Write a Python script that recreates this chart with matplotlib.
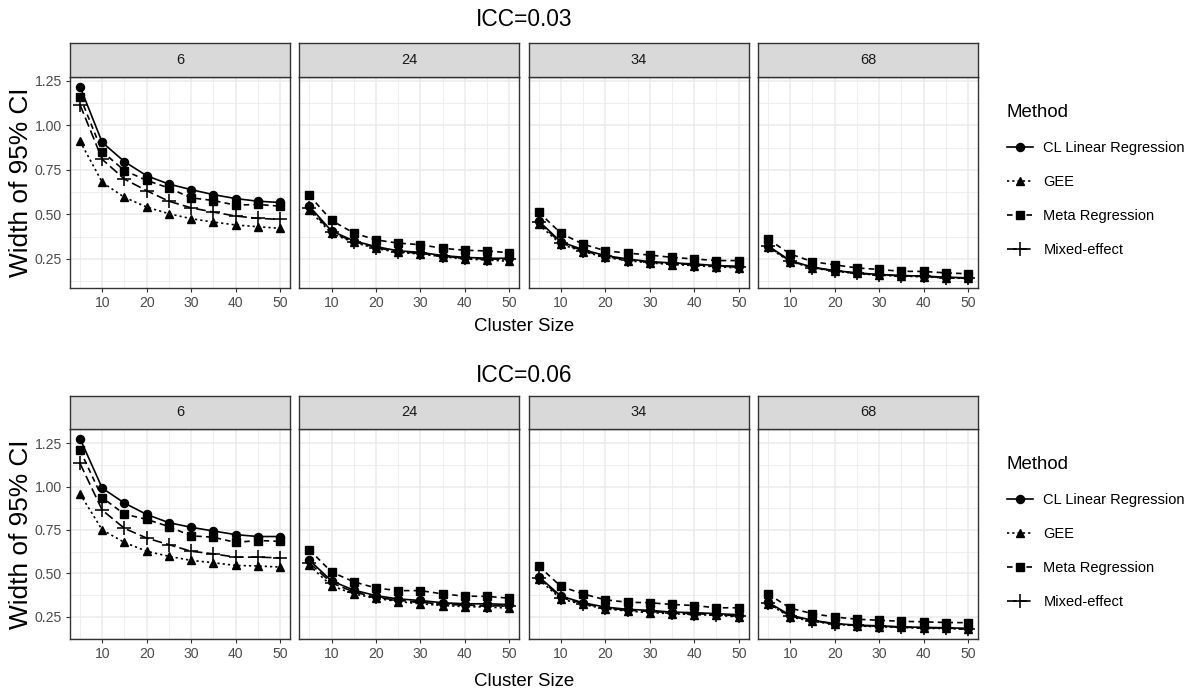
import matplotlib
matplotlib.use("Agg")
import matplotlib.pyplot as plt
from matplotlib import font_manager
from matplotlib.lines import Line2D

# ---- data -------------------------------------------------------------
cluster_size = [5, 10, 15, 20, 25, 30, 35, 40, 45, 50]
n_clusters = ["6", "24", "34", "68"]
methods = ["CL Linear Regression", "GEE", "Meta Regression", "Mixed-effect"]
icc_titles = ["ICC=0.03", "ICC=0.06"]

# width of 95% CI, one row per number of clusters (6, 24, 34, 68)
icc003_cl = [
    [1.217, 0.904, 0.796, 0.717, 0.670, 0.639, 0.611, 0.589, 0.574, 0.567],
    [0.546, 0.407, 0.352, 0.319, 0.296, 0.287, 0.269, 0.259, 0.254, 0.254],
    [0.463, 0.346, 0.302, 0.269, 0.250, 0.235, 0.228, 0.222, 0.213, 0.209],
    [0.324, 0.241, 0.204, 0.185, 0.172, 0.163, 0.157, 0.154, 0.148, 0.144],
]
icc003_gee = [
    [0.911, 0.680, 0.596, 0.541, 0.504, 0.476, 0.457, 0.441, 0.431, 0.422],
    [0.524, 0.393, 0.343, 0.309, 0.287, 0.278, 0.263, 0.250, 0.244, 0.237],
    [0.444, 0.333, 0.291, 0.259, 0.241, 0.228, 0.219, 0.213, 0.206, 0.200],
    [0.315, 0.235, 0.200, 0.181, 0.169, 0.159, 0.154, 0.150, 0.144, 0.141],
]
icc003_meta = [
    [1.161, 0.852, 0.746, 0.691, 0.648, 0.593, 0.578, 0.552, 0.556, 0.546],
    [0.607, 0.466, 0.396, 0.357, 0.339, 0.330, 0.310, 0.299, 0.295, 0.285],
    [0.513, 0.394, 0.333, 0.296, 0.283, 0.272, 0.259, 0.250, 0.241, 0.241],
    [0.361, 0.278, 0.235, 0.217, 0.200, 0.191, 0.181, 0.180, 0.172, 0.167],
]
icc003_mixed = [
    [1.115, 0.809, 0.698, 0.633, 0.574, 0.537, 0.513, 0.491, 0.478, 0.472],
    [0.535, 0.400, 0.348, 0.314, 0.291, 0.282, 0.265, 0.255, 0.250, 0.248],
    [0.455, 0.340, 0.296, 0.264, 0.246, 0.232, 0.225, 0.218, 0.210, 0.206],
    [0.320, 0.238, 0.202, 0.183, 0.170, 0.161, 0.156, 0.152, 0.146, 0.143],
]
icc006_cl = [
    [1.277, 0.991, 0.905, 0.839, 0.792, 0.765, 0.744, 0.723, 0.712, 0.712],
    [0.576, 0.456, 0.403, 0.371, 0.352, 0.343, 0.330, 0.324, 0.324, 0.320],
    [0.481, 0.368, 0.330, 0.305, 0.292, 0.286, 0.276, 0.273, 0.267, 0.261],
    [0.333, 0.258, 0.229, 0.210, 0.201, 0.197, 0.191, 0.188, 0.186, 0.182],
]
icc006_gee = [
    [0.958, 0.750, 0.678, 0.627, 0.598, 0.574, 0.561, 0.545, 0.542, 0.536],
    [0.545, 0.428, 0.381, 0.356, 0.337, 0.324, 0.314, 0.308, 0.305, 0.299],
    [0.466, 0.352, 0.320, 0.295, 0.282, 0.273, 0.267, 0.261, 0.258, 0.248],
    [0.324, 0.248, 0.223, 0.206, 0.197, 0.191, 0.188, 0.182, 0.182, 0.176],
]
icc006_meta = [
    [1.210, 0.936, 0.841, 0.811, 0.769, 0.716, 0.708, 0.678, 0.689, 0.684],
    [0.636, 0.507, 0.451, 0.415, 0.400, 0.400, 0.381, 0.368, 0.367, 0.356],
    [0.542, 0.424, 0.381, 0.347, 0.333, 0.330, 0.320, 0.314, 0.301, 0.301],
    [0.381, 0.299, 0.267, 0.248, 0.235, 0.229, 0.223, 0.220, 0.216, 0.215],
]
icc006_mixed = [
    [1.134, 0.864, 0.759, 0.703, 0.665, 0.627, 0.612, 0.593, 0.593, 0.589],
    [0.560, 0.445, 0.392, 0.362, 0.344, 0.333, 0.322, 0.316, 0.314, 0.310],
    [0.474, 0.360, 0.325, 0.300, 0.287, 0.280, 0.272, 0.267, 0.262, 0.255],
    [0.328, 0.253, 0.226, 0.208, 0.199, 0.194, 0.190, 0.185, 0.184, 0.179],
]
rows = [
    [icc003_cl, icc003_gee, icc003_meta, icc003_mixed],
    [icc006_cl, icc006_gee, icc006_meta, icc006_mixed],
]

# ---- styling ----------------------------------------------------------
available = {f.name for f in font_manager.fontManager.ttflist}
if "Liberation Sans Narrow" in available:
    FONT, S = "Liberation Sans Narrow", 1.0
else:
    FONT, S = "Liberation Sans", 0.84
plt.rcParams["font.family"] = [FONT, "DejaVu Sans"]
plt.rcParams["lines.scale_dashes"] = False

LW = 1.2
styles = [
    dict(marker="o", ms=5.8, ls="-"),
    dict(marker="^", ms=6.2, ls=(0, (1.6, 2.2))),
    dict(marker="s", ms=5.8, ls=(0, (4.0, 3.0))),
    dict(marker="+", ms=9.5, mew=1.15, ls=(0, (7.0, 3.0))),
]

W, H = 1199, 694
fig = plt.figure(figsize=(W / 100, H / 100), dpi=100)


def rect(x0, y0, x1, y1):
    return [x0 / W, 1 - y1 / H, (x1 - x0) / W, (y1 - y0) / H]


lefts = [70, 299.3, 528.7, 758]
pw = 220
row_geom = [
    dict(strip=(43, 77), plot=(77, 288), title=20, xlab=327, leg=104),
    dict(strip=(396, 429), plot=(429, 639), title=375, xlab=681, leg=456),
]

EDGE = "#333333"
for r, geom in enumerate(row_geom):
    series = rows[r]
    allv = [v for m in series for panel in m for v in panel]
    lo, hi = min(allv), max(allv)
    pad = 0.05 * (hi - lo)
    for c, lab in enumerate(n_clusters):
        x0 = lefts[c]
        ax = fig.add_axes(rect(x0, geom["plot"][0], x0 + pw, geom["plot"][1]))
        for m in range(4):
            ax.plot(cluster_size, series[m][c], color="black", lw=LW,
                    **styles[m])
        ax.set_xlim(2.75, 52.25)
        ax.set_ylim(lo - pad, hi + pad)
        ax.set_xticks([10, 20, 30, 40, 50])
        ax.set_xticks([5, 15, 25, 35, 45], minor=True)
        ax.set_yticks([0.25, 0.50, 0.75, 1.00, 1.25])
        ax.set_yticks([0.125, 0.375, 0.625, 0.875, 1.125], minor=True)
        ax.grid(True, which="major", color="#EBEBEB", lw=1.1)
        ax.grid(True, which="minor", color="#EBEBEB", lw=0.6)
        ax.set_axisbelow(True)
        for sp in ax.spines.values():
            sp.set_color(EDGE)
            sp.set_linewidth(1.0)
        ax.tick_params(which="major", length=3, width=0.8, color=EDGE,
                       labelcolor="#4D4D4D", labelsize=12 * S, pad=3)
        ax.tick_params(which="minor", length=0)
        if c == 0:
            ax.set_yticklabels(["0.25", "0.50", "0.75", "1.00", "1.25"])
        else:
            ax.tick_params(axis="y", which="both", labelleft=False, left=False)
        sax = fig.add_axes(rect(x0, geom["strip"][0], x0 + pw, geom["strip"][1]))
        sax.set_facecolor("#D9D9D9")
        sax.set_xticks([])
        sax.set_yticks([])
        for sp in sax.spines.values():
            sp.set_color(EDGE)
            sp.set_linewidth(1.0)
        sax.text(0.5, 0.5, lab, ha="center", va="center", color="#1A1A1A",
                 fontsize=12.5 * S, transform=sax.transAxes)

    mid_x = (lefts[0] + lefts[-1] + pw) / 2
    fig.text(mid_x / W, 1 - geom["title"] / H, icc_titles[r], ha="center",
             va="center", fontsize=19.5 * S)
    fig.text(mid_x / W, 1 - geom["xlab"] / H, "Cluster Size", ha="center",
             va="center", fontsize=16 * S)
    yc = (geom["plot"][0] + geom["plot"][1]) / 2
    fig.text(21 / W, 1 - yc / H, "Width of 95% CI", ha="center", va="center",
             rotation=90, fontsize=22.5 * S)

    handles = [Line2D([], [], color="black", lw=LW, **styles[m])
               for m in range(4)]
    fig.legend(handles, methods, loc="upper left",
               bbox_to_anchor=(1007 / W, 1 - geom["leg"] / H),
               frameon=False, title="Method", alignment="left",
               fontsize=12.5 * S, title_fontsize=16 * S,
               handlelength=1.75, handletextpad=0.75, labelspacing=1.38,
               borderpad=0, borderaxespad=0)

fig.savefig("out.png", dpi=100)
